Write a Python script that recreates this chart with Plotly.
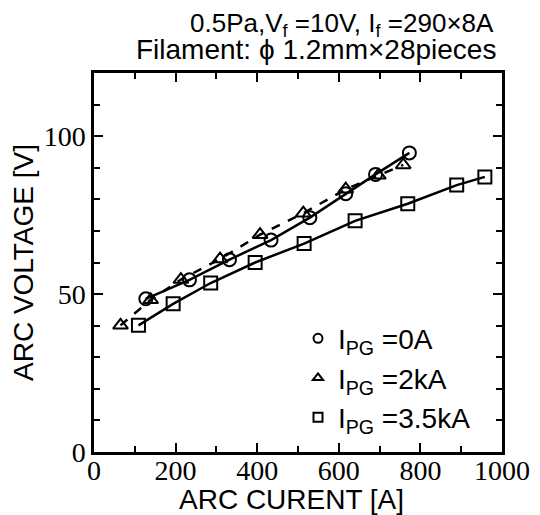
import plotly.graph_objects as go

# Data
i_0A = [127, 234, 332, 434, 529, 617, 690, 773]
v_0A = [48.5, 54.5, 60.9, 67.1, 74.2, 81.8, 87.9, 94.7]

i_2kA = [65, 139, 213, 309, 407, 513, 617, 697, 758]
v_2kA = [40.1, 48.2, 54.6, 61.1, 68.8, 75.6, 83.2, 87.6, 90.9]

i_35kA = [109, 194, 286, 395, 515, 640, 769, 889, 958]
v_35kA = [40.1, 46.9, 53.5, 60.0, 66.0, 73.2, 78.6, 84.5, 87.1]

x_ticks = [0, 200, 400, 600, 800, 1000]
y_ticks = [0, 50, 100]

series = [
    ("I<sub>PG</sub> =0A", i_0A, v_0A, "circle-open", "solid"),
    ("I<sub>PG</sub> =2kA", i_2kA, v_2kA, "triangle-up-open", "dash"),
    ("I<sub>PG</sub> =3.5kA", i_35kA, v_35kA, "square-open", "solid"),
]

fig = go.Figure()
for name, xs, ys, sym, dash in series:
    fig.add_trace(go.Scatter(
        x=xs, y=ys, mode="lines+markers", showlegend=False,
        line=dict(color="black", width=2.5, dash=dash),
        marker=dict(symbol=sym, size=13, color="black", line=dict(width=2, color="black")),
    ))
for name, xs, ys, sym, dash in series:
    fig.add_trace(go.Scatter(
        x=[None], y=[None], mode="markers", name=name, showlegend=True,
        marker=dict(symbol=sym, size=9, color="black", line=dict(width=2, color="black")),
    ))

sans = "Liberation Sans, Arial, sans-serif"
serif = "Liberation Serif, Times New Roman, serif"

# page body has an 8px default margin, so the figure is 8px smaller each way
fig.update_layout(
    width=532, height=507,
    margin=dict(l=86, r=38, t=65, b=63, autoexpand=False),
    paper_bgcolor="white", plot_bgcolor="white",
    font=dict(family=sans, color="black", size=28),
    showlegend=True,
    legend=dict(x=0.50, y=0.365, xanchor="left", yanchor="top",
                bgcolor="rgba(0,0,0,0)", font=dict(family=sans, size=28),
                itemwidth=30, tracegroupgap=0),
    xaxis=dict(range=[0, 1000], tickvals=x_ticks, ticks="inside", ticklen=9, tickwidth=2,
               tickcolor="black", showline=True, linecolor="black", linewidth=2.5,
               mirror="ticks", showgrid=False, zeroline=False, automargin=False,
               ticklabelstandoff=-8,
               tickfont=dict(family=serif, size=28),
               minor=dict(dtick=100, ticks="inside", ticklen=6, tickwidth=2, tickcolor="black", showgrid=False)),
    yaxis=dict(range=[0, 120], tickvals=y_ticks, ticks="inside", ticklen=9, tickwidth=2,
               tickcolor="black", showline=True, linecolor="black", linewidth=2.5,
               mirror="ticks", showgrid=False, zeroline=False, automargin=False,
               tickfont=dict(family=serif, size=28),
               minor=dict(dtick=10, ticks="inside", ticklen=6, tickwidth=2, tickcolor="black", showgrid=False),
               title=dict(text="ARC VOLTAGE [V]", font=dict(family=sans, size=28), standoff=4)),
)

fig.add_annotation(text="ARC CURENT [A]", xref="paper", yref="paper",
                   x=0.483, y=0.0, yshift=-47, xanchor="center", yanchor="middle", showarrow=False,
                   font=dict(family=sans, size=28))
fig.add_annotation(text="0.5Pa,V<sub>f</sub> =10V, I<sub>f</sub> =290×8A", xref="paper", yref="paper",
                   x=0.985, y=1.0, yshift=49, xanchor="right", yanchor="middle", showarrow=False,
                   font=dict(family=sans, size=26))
fig.add_annotation(text="Filament: ϕ 1.2mm×28pieces", xref="paper", yref="paper",
                   x=0.99, y=1.0, yshift=24, xanchor="right", yanchor="middle", showarrow=False,
                   font=dict(family=sans, size=28))

fig.write_html("out.html")
